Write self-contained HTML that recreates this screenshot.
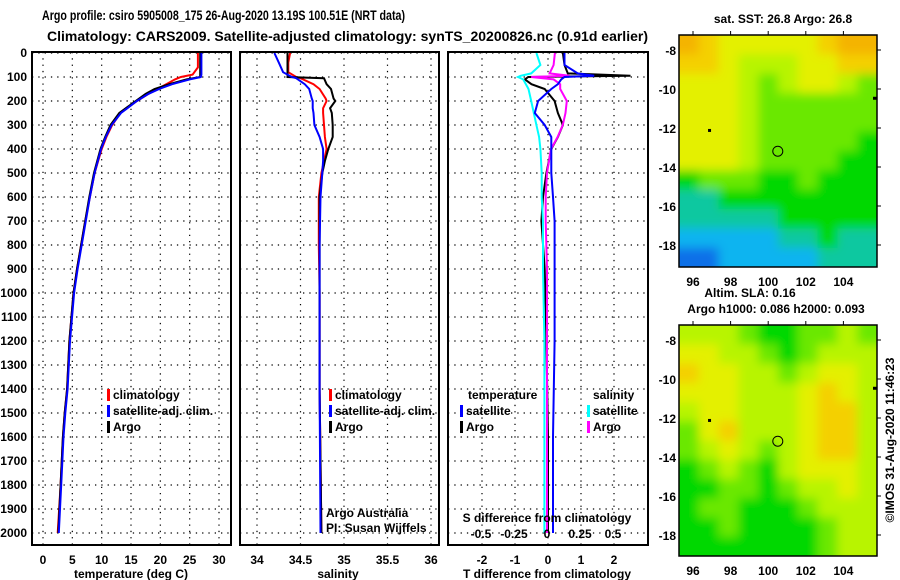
<!DOCTYPE html>
<html><head><meta charset="utf-8"><style>
html,body{margin:0;padding:0;background:#fff;}
svg{display:block;font-family:"Liberation Sans",sans-serif;}
.b{font-weight:bold;font-size:12px;}
</style></head><body>
<svg id="s" width="900" height="580" xmlns="http://www.w3.org/2000/svg">
<defs>
<filter id="blur" x="-5%" y="-5%" width="110%" height="110%"><feGaussianBlur stdDeviation="5"/></filter>
<clipPath id="clipTop"><rect x="679" y="35" width="198" height="232"/></clipPath>
<clipPath id="clipBot"><rect x="679" y="325" width="198" height="231"/></clipPath>
</defs>
<text x="42" y="20" font-size="14" font-weight="bold" textLength="363" lengthAdjust="spacingAndGlyphs">Argo profile: csiro 5905008_175 26-Aug-2020 13.19S 100.51E (NRT data)</text>
<text x="47" y="41" font-size="14" font-weight="bold" textLength="601" lengthAdjust="spacingAndGlyphs">Climatology: CARS2009. Satellite-adjusted climatology: synTS_20200826.nc (0.91d earlier)</text>
<g id="g"></g>
</svg>
<script>
// ---- data ----
const depthTicks=[0,100,200,300,400,500,600,700,800,900,1000,1100,1200,1300,1400,1500,1600,1700,1800,1900,2000];
const tTicks=[0,5,10,15,20,25,30];
const sTicks=[34,34.5,35,35.5,36];
const sTickLabels=["34","34.5","35","35.5","36"];
const dtTicks=[-2,-1,0,1,2];
const dsTicks=[-0.5,-0.25,0,0.25,0.5];
const dsTickLabels=["-0.5","-0.25","0","0.25","0.5"];
const tDepth=[0,60,90,100,110,130,150,170,200,250,300,350,400,500,600,700,800,900,1000,1200,1400,1500,1600,1800,2000];
const tArgo=[26.8,26.8,26.8,26.8,24.5,21.5,19,17.5,15.8,13,11.5,10.6,9.8,8.7,7.9,7.2,6.5,5.8,5.2,4.5,4.1,3.7,3.4,3.0,2.6];
const tClim=[26.4,26.4,25.5,23.5,22.5,21,19.5,18,16,13.2,11.8,10.8,10,8.8,8,7.2,6.5,5.8,5.2,4.5,4.1,3.7,3.4,3.0,2.5];
const tSat=[27,27,27,26.9,25,22,19.8,18,16,13.3,11.7,10.7,9.9,8.8,8,7.3,6.6,5.9,5.3,4.6,4.2,3.8,3.5,3.1,2.7];
const sDepth=[0,40,80,100,105,130,150,190,200,230,250,300,350,400,450,500,600,800,1000,1400,2000];
const sArgo=[34.35,34.35,34.35,34.35,34.77,34.8,34.85,34.88,34.9,34.84,34.86,34.87,34.87,34.82,34.78,34.75,34.72,34.72,34.72,34.72,34.74];
const sClim=[34.38,34.36,34.36,34.45,34.5,34.65,34.72,34.79,34.8,34.76,34.76,34.77,34.78,34.8,34.77,34.74,34.71,34.71,34.72,34.72,34.74];
const sSat=[34.2,34.25,34.3,34.4,34.45,34.55,34.6,34.63,34.64,34.64,34.65,34.66,34.72,34.76,34.76,34.75,34.73,34.72,34.72,34.72,34.73];
const dDepth=[0,50,85,95,100,110,130,150,200,250,300,350,400,500,600,700,900,1200,1600,2000];
const dtArgo=[0.45,0.5,0.6,2.5,-0.6,-0.7,-0.5,-0.1,0.2,0.3,0.45,0.3,0.1,-0.05,-0.15,-0.2,-0.1,-0.05,0,0];
const dtSat=[0.5,0.5,0.9,1.4,0.5,0.4,0.3,0.1,-0.3,-0.4,-0.1,0.1,0.1,0.1,0.15,0.2,0.2,0.2,0.15,0.15];
const dsSat=[-0.08,-0.05,-0.12,-0.2,-0.22,-0.18,-0.16,-0.14,-0.12,-0.1,-0.08,-0.06,-0.05,-0.04,-0.04,-0.03,-0.03,-0.02,-0.02,-0.02];
const dsArgo=[0.06,0.05,0.02,0.17,-0.12,0.05,0.1,0.1,0.15,0.14,0.12,0.08,0.03,0.0,-0.01,-0.01,0,0,0,0];
const sstGrid=[
"8766666788","7765556677","6665456654","6665444444","6665444444","6665444443",
"6665444433","3444334333","2233333333","2222233333","1111122322","0011111222"];
const slaGrid=[
"5554334454","6655434555","7665545665","6665556765","5665556775","4675556775",
"4565456775","3454356665","3344345565","3443334555","3343333455","3333333455"];
const mapLon=[96,98,100,102,104];
const mapLat=[-8,-10,-12,-14,-16,-18];
const argoPos=[100.51,-13.19];
// ---- drawing ----
const NS='http://www.w3.org/2000/svg';
const G=document.getElementById('g');
function mk(tag,attrs,parent){const e=document.createElementNS(NS,tag);for(const k in attrs)e.setAttribute(k,attrs[k]);(parent||G).appendChild(e);return e;}
const yD=d=>53+d*0.24;
const TOP=52,BOT=545;
const panels=[{x0:32,x1:231},{x0:240,x1:439},{x0:448,x1:648}];
const xT=v=>43+v*(176/30);
const xS=v=>257+(v-34)*87;
const xDT=v=>548+v*33;
const xDS=v=>547+v*132;
function frame(p,name){
  const g=mk('g',{});
  
  
  return g;
}
function hgrid(g,p){
  depthTicks.forEach(d=>{
    const l=mk('line',{x1:p.x0,x2:p.x1,y1:yD(d),y2:yD(d),stroke:'#000','stroke-width':1.2,'stroke-dasharray':'1.3,5'},g);
    
    
  });
}
function vgrid(g,xs,p){
  xs.forEach(x=>{
    const l=mk('line',{x1:x,x2:x,y1:TOP,y2:BOT,stroke:'#000','stroke-width':1.2,'stroke-dasharray':'1.3,5'},g);
    
    
  });
}
function box(g,p){
  const r=mk('rect',{x:p.x0,y:TOP,width:p.x1-p.x0,height:BOT-TOP,fill:'none',stroke:'#000','stroke-width':2},g);
  
  
}
function line(g,depths,vals,xf,color,w,name){
  const pts=depths.map((d,i)=>xf(vals[i]).toFixed(1)+','+yD(d).toFixed(1)).join(' ');
  const pl=mk('polyline',{points:pts,fill:'none',stroke:color,'stroke-width':w},g);
  
  
}
function txt(g,x,y,s,anchor,cls,name,extra){
  const t=mk('text',Object.assign({x:x,y:y,'text-anchor':anchor||'start',class:cls||'b'},extra||{}),g);
  t.textContent=s;
  
  
  return t;
}
function legendRow(g,x,y,color,label,name){
  const r=mk('rect',{x:x,y:y-10,width:3,height:12,fill:color},g);
  
  
  txt(g,x+6,y,label,'start','b',name);
}
// panel 1
let g1=frame(panels[0],'temperature-panel');
hgrid(g1,panels[0]);vgrid(g1,tTicks.map(xT),panels[0]);
depthTicks.forEach(d=>txt(g1,27,yD(d)+4,String(d),'end','b','depth-tick-label'));
tTicks.forEach(v=>txt(g1,xT(v),564,String(v),'middle','b','temperature-tick-label'));
txt(g1,131,578,'temperature (deg C)','middle','b','temperature-axis-title');
line(g1,tDepth,tClim,xT,'#ff0000',2,'temperature-climatology-line');
line(g1,tDepth,tArgo,xT,'#000',2,'temperature-argo-line');
line(g1,tDepth,tSat,xT,'#0000ff',2,'temperature-satellite-line');
legendRow(g1,107,399,'#ff0000','climatology','legend-climatology');
legendRow(g1,107,415,'#0000ff','satellite-adj. clim.','legend-satellite-adj');
legendRow(g1,107,431,'#000','Argo','legend-argo');
box(g1,panels[0]);
// panel 2
let g2=frame(panels[1],'salinity-panel');
hgrid(g2,panels[1]);vgrid(g2,sTicks.map(xS),panels[1]);
sTicks.forEach((v,i)=>txt(g2,xS(v),564,sTickLabels[i],'middle','b','salinity-tick-label'));
txt(g2,338,578,'salinity','middle','b','salinity-axis-title');
line(g2,sDepth,sClim,xS,'#ff0000',2,'salinity-climatology-line');
line(g2,sDepth,sArgo,xS,'#000',2,'salinity-argo-line');
line(g2,sDepth,sSat,xS,'#0000ff',2,'salinity-satellite-line');
legendRow(g2,329,399,'#ff0000','climatology','legend-climatology');
legendRow(g2,329,415,'#0000ff','satellite-adj. clim.','legend-satellite-adj');
legendRow(g2,329,431,'#000','Argo','legend-argo');
txt(g2,326,517,'Argo Australia','start','','credit-argo-australia',{'font-size':12});
txt(g2,326,532,'PI: Susan Wijffels','start','','credit-pi',{'font-size':12});
box(g2,panels[1]);
// panel 3
let g3=frame(panels[2],'difference-panel');
hgrid(g3,panels[2]);vgrid(g3,dtTicks.map(xDT),panels[2]);
dtTicks.forEach(v=>txt(g3,xDT(v),564,String(v),'middle','b','t-diff-tick-label'));
txt(g3,547,578,'T difference from climatology','middle','b','t-diff-axis-title');
line(g3,dDepth,dtArgo,xDT,'#000',2,'t-diff-argo-line');
line(g3,dDepth,dsSat,xDS,'#00ffff',2,'s-diff-satellite-line');
line(g3,dDepth,dsArgo,xDS,'#ff00ff',2,'s-diff-argo-line');
line(g3,dDepth,dtSat,xDT,'#0000ff',2,'t-diff-satellite-line');
txt(g3,468,399,'temperature','start','b','legend-temperature-heading');
txt(g3,593,399,'salinity','start','b','legend-salinity-heading');
legendRow(g3,460,415,'#0000ff','satellite','legend-t-satellite');
legendRow(g3,460,431,'#000','Argo','legend-t-argo');
legendRow(g3,587,415,'#00ffff','satellite','legend-s-satellite');
legendRow(g3,587,431,'#ff00ff','Argo','legend-s-argo');
txt(g3,547,522,'S difference from climatology','middle','b','s-diff-axis-title');
dsTicks.forEach((v,i)=>txt(g3,xDS(v),538,dsTickLabels[i],'middle','b','s-diff-tick-label'));
box(g3,panels[2]);
// maps
const pal=['#0a70e8','#10b4f0','#08c8a0','#00d800','#6ae800','#b8f400','#e4f000','#f4d000','#f4b400'];
function drawMap(grid,y0,y1,yLat0,name,clip,blur){
  const x0=679,x1=877;
  const g=frame(null,name);
  const cg=mk('g',{'clip-path':'url(#'+clip+')'},g);
  const cells=mk('g',{filter:'url(#blur)','data-blur':blur},cg);
  if(!blur) cells.removeAttribute('filter');
  const rows=grid.length,cols=grid[0].length;
  const cw=(x1-x0)/cols,ch=(y1-y0)/rows;
  // padding cells so blur doesn't fade at edges
  grid.forEach((row,r)=>{for(let c=0;c<cols;c++){
    let x=x0+c*cw,y=y0+r*ch,w=cw+0.6,h=ch+0.6;
    if(c===0){x-=12;w+=12;} if(c===cols-1){w+=12;}
    if(r===0){y-=12;h+=12;} if(r===rows-1){h+=12;}
    const rc=mk('rect',{x:x.toFixed(2),y:y.toFixed(2),width:w.toFixed(2),height:h.toFixed(2),fill:pal[+row[c]]},cells);
    
    
  }});
  const xL=lon=>693+(lon-96)*18.8, yL=lat=>yLat0+(-8-lat)*19.5;
  const fr=mk('rect',{x:x0,y:y0,width:x1-x0,height:y1-y0,fill:'none',stroke:'#000','stroke-width':1.5},g);
  
  
  mapLat.forEach(lat=>{
    mk('line',{x1:x1,x2:x1+4,y1:yL(lat),y2:yL(lat),stroke:'#000'},g);
    txt(g,676,yL(lat)+5,String(lat),'end','b','map-lat-label',{'font-size':13});
  });
  mapLon.forEach(lon=>{
    mk('line',{x1:xL(lon),x2:xL(lon),y1:y0-4,y2:y0,stroke:'#000'},g);
    txt(g,xL(lon),y1+19,String(lon),'middle','b','map-lon-label',{'font-size':13});
  });
  const c=mk('circle',{cx:xL(argoPos[0]),cy:yL(argoPos[1]),r:5,fill:'none',stroke:'#000','stroke-width':1},g);
  
  
  mk('rect',{x:xL(96.8),y:yL(-12.1)-1,width:3,height:3,fill:'#000'},g);
  mk('rect',{x:x1-4,y:yL(-10.45)-1,width:4,height:3,fill:'#000'},g);
}
drawMap(sstGrid,35,267,50,'sst-map','clipTop',true);
drawMap(slaGrid,325,556,340,'sla-map','clipBot',true);
txt(G,783,23,'sat. SST: 26.8 Argo: 26.8','middle','b','sst-map-title');
txt(G,750,297,'Altim. SLA: 0.16','middle','b','sla-map-title');
txt(G,776,313,'Argo h1000: 0.086 h2000: 0.093','middle','b','argo-height-label');
txt(G,894,440,'©IMOS 31-Aug-2020 11:46:23','middle','','imos-timestamp',{'font-size':13,transform:'rotate(-90 894 440)'});
</script>
</body></html>
